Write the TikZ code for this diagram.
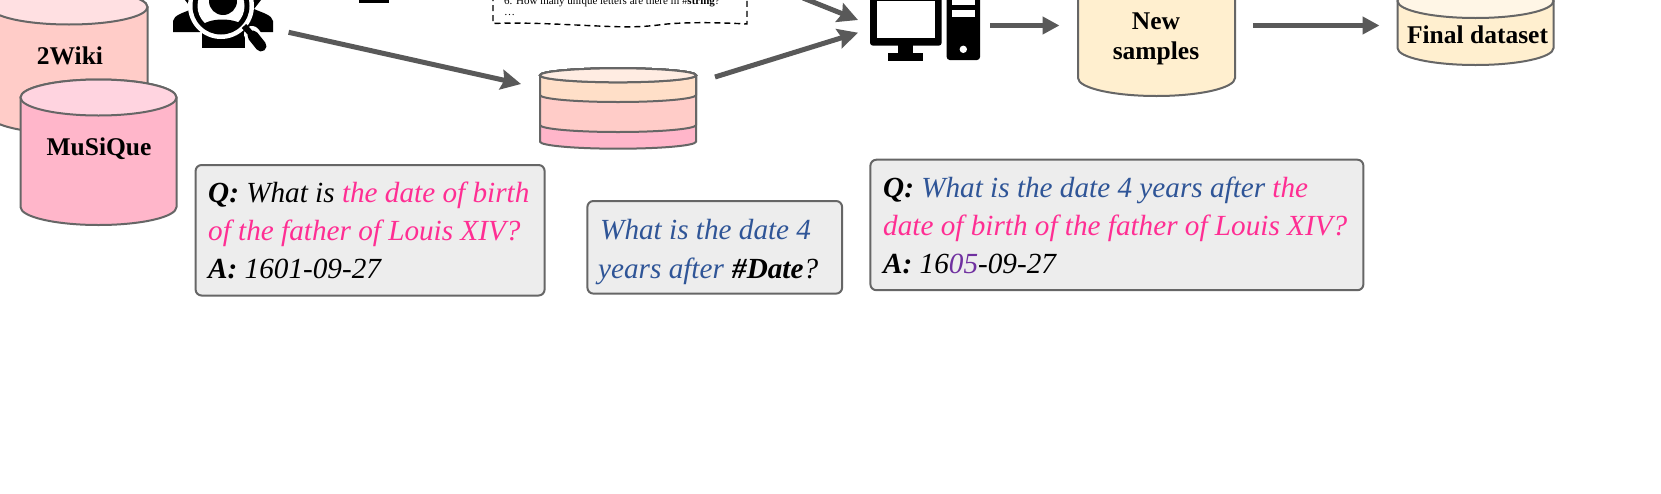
\documentclass[tikz,border=0pt]{standalone}
\usepackage{fontspec}
\setmainfont{Liberation Serif}
\usetikzlibrary{arrows.meta}
\definecolor{edgegray}{HTML}{666666}
\definecolor{arrowgray}{HTML}{595959}
\definecolor{boxfill}{HTML}{EDEDED}
\definecolor{pinkq}{HTML}{FF2E93}
\definecolor{blueq}{HTML}{2F5597}
\definecolor{purpleq}{HTML}{7030A0}
\definecolor{wikibody}{HTML}{FFCCC8}
\definecolor{wikilid}{HTML}{FFE0E2}
\definecolor{musbody}{HTML}{FFB6CA}
\definecolor{muslid}{HTML}{FFD4E0}
\definecolor{peachbody}{HTML}{FFDFC8}
\definecolor{peachlid}{HTML}{FFECE2}
\definecolor{creambody}{HTML}{FFEFCF}
\definecolor{creamlid}{HTML}{FFF6E6}
\newcommand{\cylshape}[7]{%
  \draw[cyledge,fill=#6] ({#1-#2},#3) -- ({#1-#2},#4)
    arc[start angle=180,end angle=360,x radius=#2pt,y radius=#5pt]
    -- ({#1+#2},#3)
    arc[start angle=0,end angle=180,x radius=#2pt,y radius=#5pt] -- cycle;
  \draw[cyledge,fill=#7] (#1,#3) ellipse[x radius=#2pt,y radius=#5pt];}
\tikzset{
  cyledge/.style={draw=edgegray,line width=2pt},
  flow/.style={draw=arrowgray,line width=5.6pt,-{Triangle[length=17pt,width=17pt,fill=arrowgray]}},
  flowslant/.style={draw=arrowgray,line width=5pt,-{Stealth[inset=3pt,length=20pt,width=20pt,fill=arrowgray]}},
  qbox/.style={draw=edgegray,line width=2pt,fill=boxfill,rounded corners=6pt,anchor=north west,inner sep=0pt},
  qline/.style={anchor=base west,inner sep=0pt,font=\fontsize{29.2}{29.2}\selectfont\itshape},
  cyllabel/.style={inner sep=0pt,align=center,font=\fontsize{25.5}{30}\selectfont\bfseries},
  tinytext/.style={anchor=base west,inner sep=0pt,font=\fontsize{11}{11}\selectfont},
}
\begin{document}
\begin{tikzpicture}[x=1pt,y=-1pt]
\useasboundingbox (0,0) rectangle (1661,493);
\clip (0,0) rectangle (1661,493);
\fill[white] (0,0) rectangle (1661,493);

% cylinders on the left
\cylshape{69}{78.5}{7}{116}{17.5}{wikibody}{wikilid}
\node[cyllabel] (wiki) at (70,55.5) {2Wiki};
\cylshape{98.5}{78}{97.5}{207}{18}{musbody}{muslid}
\node[cyllabel] (musique) at (99,148.5) {MuSiQue};

% person search icon
\coordinate (icon) at (221,6);
\fill[black] (173,32) -- (173,21) .. controls (174,15) and (183,13) .. (192,9) -- (185,0) -- (200,-5) -- (222,20) -- (200,32) -- cycle;
\fill[black] (273,32) -- (273,21) .. controls (272,15) and (263,13) .. (254,9) -- (261,0) -- (246,-5) -- (222,20) -- (246,32) -- cycle;
\fill[black] (202,48) -- (202,20) -- (245,20) -- (245,48) -- cycle;
\fill[white] (icon) circle[radius=33pt];
\fill[black] (icon) circle[radius=28.5pt];
\fill[white] (icon) circle[radius=23.5pt];
\begin{scope}
  \clip (icon) circle[radius=24.5pt];
  \fill[black] (223,1) circle[radius=14pt];
  \fill[black] (190,45) -- (200,27) .. controls (208,17) and (236,17) .. (246,27) -- (254,45) -- cycle;
\end{scope}
\draw[white,line width=16pt,line cap=round] (252,34) -- (261,46);
\draw[black,line width=6pt] (244,26) -- (253,36);
\draw[black,line width=11pt,line cap=round] (253,36) -- (261,46);

% clipped block from the upper part
\fill[black] (359,-5) rectangle (389,2.5);

% dashed note
\draw[black,line width=1.4pt,dash pattern=on 6pt off 4pt] (493,-5) -- (493,23.5)
  .. controls (530,22) and (570,25) .. (610,26.5)
  .. controls (640,27.5) and (650,26) .. (667,24)
  .. controls (690,22) and (720,22.5) .. (747,24) -- (747,-5);
\node[tinytext] (notea) at (504,4) {6. How many unique letters are there in \#\textbf{string}?};
\node[tinytext] (noteb) at (504,15) {\dots};

% stacked cylinder
\cylshape{618}{78}{75.3}{141.7}{7}{musbody}{musbody}
\cylshape{618}{78}{75.3}{125}{7}{wikibody}{wikibody}
\cylshape{618}{78}{75.3}{95}{7}{peachbody}{peachbody}
\draw[cyledge,fill=peachlid] (618,75.3) ellipse[x radius=78pt,y radius=7pt];
\coordinate (stackin) at (521,84);
\coordinate (stackout) at (715,77);

% computer
\fill[black,rounded corners=3pt] (870,-8) rectangle (941.7,45.7);
\fill[white] (876.7,1) rectangle (934.5,38.3);
\fill[black] (898,45) rectangle (913,54);
\fill[black] (888,53) rectangle (923,60.5);
\fill[black,rounded corners=3pt] (946.7,-8) rectangle (980,60);
\fill[white] (951.7,-8) rectangle (975,5);
\fill[white] (951.7,10) rectangle (975,17.3);
\fill[white] (963.3,49.3) circle[radius=3.7pt];

% new samples
\cylshape{1156.5}{78.5}{-30}{78}{18}{creambody}{creamlid}
\node[cyllabel] (newsamples) at (1156,38.5) {New\\samples};

% final dataset
\cylshape{1475.5}{78}{1}{48}{17}{creambody}{creamlid}
\node[cyllabel] (final) at (1477.5,35) {Final dataset};

% arrows
\coordinate (iconout) at (288.6,32.3);
\coordinate (topin) at (803,-2);
\coordinate (topend) at (858,20);
\coordinate (compin) at (858,32.7);
\coordinate (compout) at (990,25.5);
\coordinate (newin) at (1059.5,25.5);
\coordinate (newout) at (1252.8,25.5);
\coordinate (finalin) at (1379.5,25.5);
\draw[flowslant] (iconout) -- (stackin);
\draw[flowslant] (topin) -- (topend);
\draw[flowslant] (stackout) -- (compin);
\draw[flow] (compout) -- (newin);
\draw[flow] (newout) -- (finalin);

% question boxes
\node[qbox,minimum width=349pt,minimum height=130.5pt] (boxa) at (194.6,164) {};
\node[qline] (a1) at (208,202.5) {\textbf{Q:} What is \textcolor{pinkq}{the date of birth}};
\node[qline] (a2) at (208,240) {\textcolor{pinkq}{of the father of Louis XIV?}};
\node[qline] (a3) at (208,278) {\textbf{A:} 1601-09-27};

\node[qbox,minimum width=254.7pt,minimum height=92.6pt] (boxb) at (586.4,200) {};
\node[qline] (b1) at (600,239) {\textcolor{blueq}{What is the date 4}};
\node[qline] (b2) at (598,278) {\textcolor{blueq}{years after}\hspace{1pt} \textbf{\#Date}?};

\node[qbox,minimum width=493pt,minimum height=130.5pt] (boxc) at (869.4,158.7) {};
\node[qline] (c1) at (883,197) {\textbf{Q:} \textcolor{blueq}{What is the date 4 years after} \textcolor{pinkq}{the}};
\node[qline] (c2) at (883,235.5) {\textcolor{pinkq}{date of birth of the father of Louis XIV?}};
\node[qline] (c3) at (883,273) {\textbf{A:} 16\textcolor{purpleq}{05}-09-27};
\end{tikzpicture}
\end{document}
